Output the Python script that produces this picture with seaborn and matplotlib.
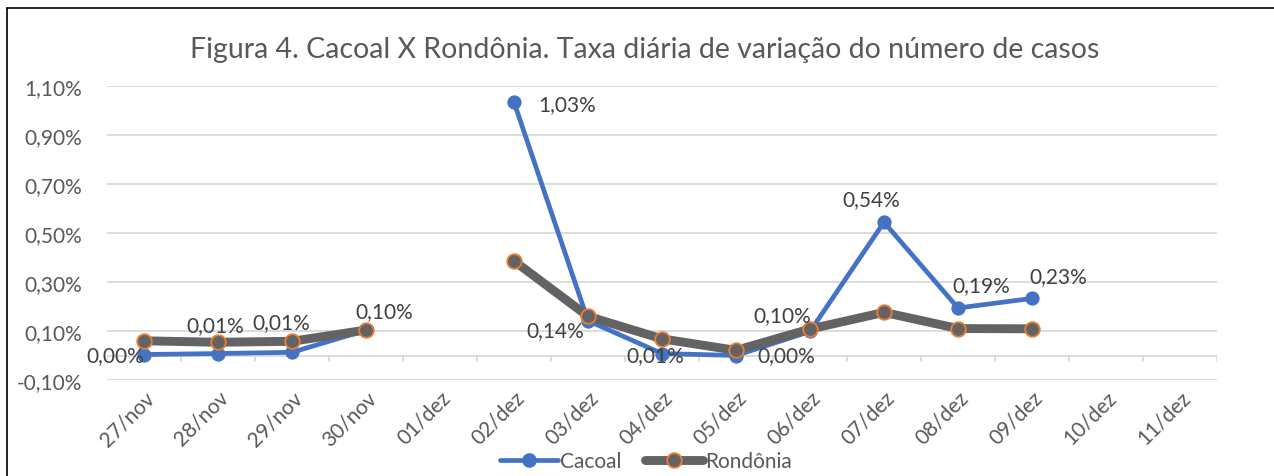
import numpy as np
import pandas as pd
import matplotlib
matplotlib.use("Agg")
import matplotlib.pyplot as plt
from matplotlib.lines import Line2D
import seaborn as sns

# ---- data ----
categories = ["27/nov", "28/nov", "29/nov", "30/nov", "01/dez", "02/dez", "03/dez",
              "04/dez", "05/dez", "06/dez", "07/dez", "08/dez", "09/dez", "10/dez", "11/dez"]
cacoal = [0.004, 0.008, 0.013, 0.103, np.nan, 1.034, 0.142, 0.008, 0.000, 0.098,
          0.544, 0.194, 0.233, np.nan, np.nan]
rondonia = [0.060, 0.054, 0.058, 0.104, np.nan, 0.386, 0.160, 0.068, 0.021, 0.108,
            0.176, 0.110, 0.109, np.nan, np.nan]
yticks = [-0.10, 0.10, 0.30, 0.50, 0.70, 0.90, 1.10]
title = "Figura 4. Cacoal X Rondônia. Taxa diária de variação do número de casos"

# label offsets (pixels) for Cacoal data labels
label_offsets = {0: (-29, -1), 1: (-3, 28), 2: (-11, 30), 3: (18, 19), 5: (53, -2),
                 6: (-33, -9), 7: (-7, -2), 8: (50, 0), 9: (-28, 16), 10: (-13, 23),
                 11: (23, 23), 12: (26, 22)}

sns.set_theme(style="white")
plt.rcParams['font.family'] = ['Lato', 'DejaVu Sans']
TXT = "#595959"
FS = 15

def frame(vals, name):
    x = np.arange(len(vals))
    v = np.array(vals, dtype=float)
    seg = np.cumsum(np.isnan(v))
    df = pd.DataFrame({"x": x, "v": v, "seg": seg, "serie": name})
    return df.dropna()

df_c = frame(cacoal, "Cacoal")
df_r = frame(rondonia, "Rondônia")

fig = plt.figure(figsize=(12.74, 4.77), dpi=100)
ax = fig.add_axes([107/1274, 1-381/477, (1217-107)/1274, (381-87)/477])

# gridlines
for yt in yticks:
    ax.axhline(yt, color="#D9D9D9", lw=1.3, zorder=0)
ax.axhline(0, color="#D9D9D9", lw=1.3, zorder=0)
# category boundary ticks on the zero line
for b in np.arange(-0.5, len(categories) + 0.5, 1):
    ax.plot([b, b], [0, -0.022], color="#D9D9D9", lw=1.3, zorder=0)

sns.lineplot(data=df_c, x="x", y="v", units="seg", estimator=None, ax=ax,
             color="#4472C4", lw=3.4, marker="o", markersize=9.5,
             markeredgecolor="#4472C4", zorder=3, legend=False)
sns.lineplot(data=df_r, x="x", y="v", units="seg", estimator=None, ax=ax,
             color="#636363", lw=6.4, marker="o", markersize=10.5,
             markerfacecolor="#636363", markeredgecolor="#ED7D31", markeredgewidth=1.3,
             zorder=4, legend=False)

# data labels for Cacoal
for i, val in enumerate(cacoal):
    if np.isnan(val):
        continue
    dx, dy = label_offsets.get(i, (0, 20))
    ax.annotate(f"{val:.2f}%".replace(".", ","), (i, val), xytext=(dx, dy),
                textcoords="offset pixels", ha="center", va="center",
                fontsize=FS, color="#404040", zorder=6)

ax.set_xlim(-0.5, len(categories) - 0.5)
ax.set_ylim(-0.10, 1.10)
ax.set_yticks(yticks)
ax.set_yticklabels([f"{t:.2f}%".replace(".", ",") for t in yticks], fontsize=FS, color=TXT)
ax.set_xticks(np.arange(len(categories)))
ax.set_xticklabels(categories, rotation=45, ha="right", rotation_mode="anchor",
                   fontsize=FS, color=TXT)
ax.tick_params(axis="both", length=0)
ax.tick_params(axis="x", pad=5)
ax.tick_params(axis="y", pad=18)
ax.set_xlabel("")
ax.set_ylabel("")
for s in ax.spines.values():
    s.set_visible(False)

fig.text(0.506, 1 - 50/477, title, ha="center", va="center", fontsize=20.5, color=TXT)

handles = [
    Line2D([0], [0], color="#4472C4", lw=3.4, marker="o", markersize=9.5,
           markeredgecolor="#4472C4"),
    Line2D([0], [0], color="#636363", lw=6.4, marker="o", markersize=10.5,
           markerfacecolor="#636363", markeredgecolor="#ED7D31", markeredgewidth=1.3),
]
fig.legend(handles, ["Cacoal", "Rondônia"], loc="center", bbox_to_anchor=(646/1274, 1 - 462/477),
           ncol=2, frameon=False, fontsize=FS, labelcolor=TXT, handlelength=2.8,
           handletextpad=0.1, columnspacing=1.1, borderpad=0.2)

# outer frame (left and top edges visible)
fig.add_artist(Line2D([7/1274, 7/1274], [0, 1 - 9/477], color="black", lw=1.2, transform=fig.transFigure))
fig.add_artist(Line2D([7/1274, 1], [1 - 9/477, 1 - 9/477], color="black", lw=1.2, transform=fig.transFigure))

fig.savefig("out.png", dpi=100, facecolor="white")
